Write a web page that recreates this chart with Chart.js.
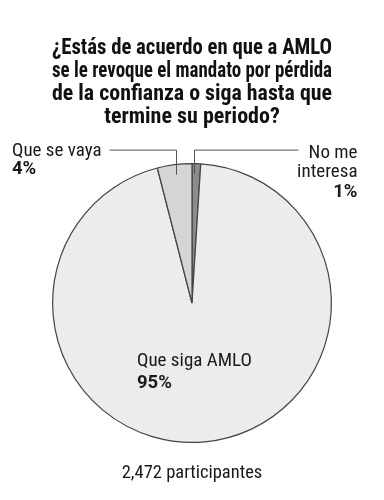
<!DOCTYPE html>
<html><head><meta charset="utf-8">
<script src="https://cdn.jsdelivr.net/npm/chart.js@4"></script>
<style>html,body{margin:0;padding:0;background:#fff}#wrap{width:384px;height:500px}</style>
</head><body><div id="wrap"><canvas id="c"></canvas></div>
<script>
const titleLines = ['¿Estás de acuerdo en que a AMLO','se le revoque el mandato por pérdida','de la confianza o siga hasta que','termine su periodo?'];
const categories = ['No me interesa','Que siga AMLO','Que se vaya'];
const labelLines = [['No me','interesa'],['Que siga AMLO'],['Que se vaya']];
const values = [1,95,4];
const footer = '2,472 participantes';

const FONT = '"Roboto Condensed", Roboto, sans-serif';
const PFONT = 'bold 18.5px Roboto, sans-serif';

const labelPlugin = {
  id:'pieLabels',
  afterDatasetsDraw(chart){
    const ctx = chart.ctx;
    const meta = chart.getDatasetMeta(0);
    const ds = chart.data.datasets[0].data;
    ctx.save();
    ctx.strokeStyle = '#555';
    ctx.lineWidth = 1;
    ctx.fillStyle = '#1a1a1a';
    meta.data.forEach((arc,i)=>{
      const p = arc.getProps(['x','y','startAngle','endAngle','outerRadius']);
      const mid = (p.startAngle+p.endAngle)/2;
      const pct = ds[i]+'%';
      const lines = labelLines[i];
      if(i===1){
        const lx = p.x - 55, ly = p.y + 63;
        ctx.textAlign='left'; ctx.textBaseline='alphabetic';
        ctx.font = '19px '+FONT;
        ctx.fillText(lines[0], lx, ly);
        ctx.font = PFONT;
        ctx.fillText(pct, lx, ly+22);
        return;
      }
      const r = p.outerRadius - 10;
      const ax = Math.round(p.x + Math.cos(mid)*r - (i===0?2:0))+0.5;
      const ay = p.y + Math.sin(mid)*r;
      const hy = p.y - p.outerRadius - 13.5;
      ctx.beginPath();
      ctx.moveTo(ax, ay);
      ctx.lineTo(ax, hy);
      if(i===0){
        ctx.lineTo(ax+104, hy);
        ctx.stroke();
        ctx.textAlign='right'; ctx.textBaseline='alphabetic';
        const tx = ax+163;
        ctx.font='19px '+FONT;
        ctx.fillText(lines[0], tx, hy+8);
        ctx.fillText(lines[1], tx, hy+27);
        ctx.font=PFONT;
        ctx.fillText(pct, tx, hy+47);
      } else {
        ctx.lineTo(ax-67, hy);
        ctx.stroke();
        ctx.textAlign='left'; ctx.textBaseline='alphabetic';
        const tx = 12;
        ctx.font='19px '+FONT;
        ctx.fillText(lines[0], tx, hy+5.5);
        ctx.font=PFONT;
        ctx.fillText(pct, tx, hy+23.5);
      }
    });
    ctx.restore();
  }
};

new Chart(document.getElementById('c'), {
  type:'pie',
  data:{
    labels: categories,
    datasets:[{
      data: values,
      backgroundColor:['#8c8c8c','#ececec','#d5d5d5'],
      borderColor:'#444',
      borderWidth:1.2,
      hoverOffset:0
    }]
  },
  options:{
    responsive:true,
    maintainAspectRatio:false,
    animation:false,
    rotation:0,
    layout:{padding:{left:52,right:52,top:0,bottom:0}},
    plugins:{
      legend:{display:false},
      tooltip:{enabled:false},
      title:{display:true,text:titleLines,color:'#111',
        font:{family:FONT,size:22,weight:'bold',lineHeight:1.05},
        padding:{top:37,bottom:33.6}},
      subtitle:{display:true,position:'bottom',text:footer,color:'#1a1a1a',
        font:{family:FONT,size:18.5,weight:'normal',lineHeight:1.2},
        padding:{top:18.9,bottom:15.9}}
    }
  },
  plugins:[labelPlugin]
});
</script></body></html>
